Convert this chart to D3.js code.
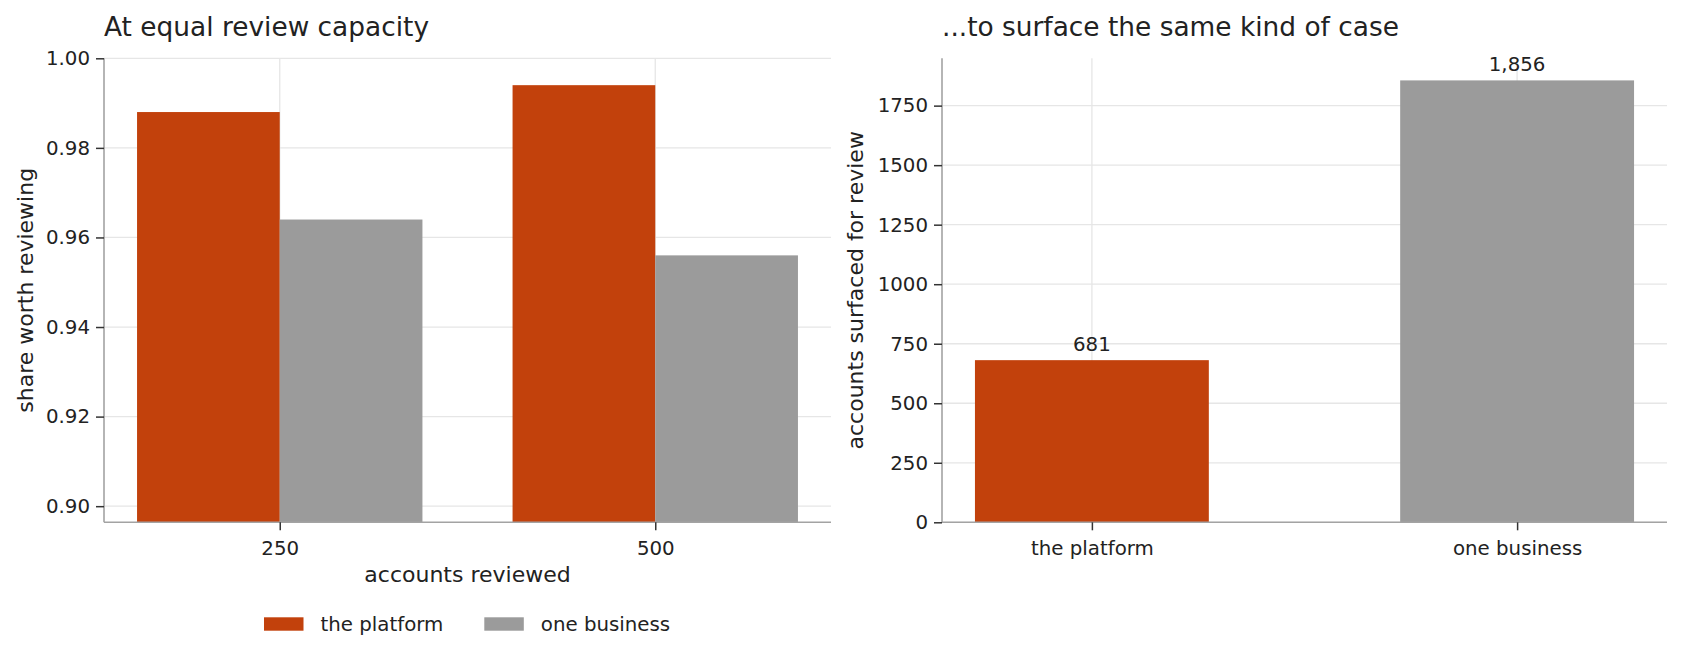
<!DOCTYPE html>
<html>
<head>
<meta charset="utf-8">
<script src="https://cdn.jsdelivr.net/npm/d3@7"></script>
<style>
  html, body { margin: 0; padding: 0; background: #fff; }
  svg { display: block; font-family: "DejaVu Sans", sans-serif; }
</style>
</head>
<body>
<svg id="chart" width="1682" height="659"></svg>
<script>
// ---- data ----
const capacityLabels = ["250", "500"];
const seriesNames = ["the platform", "one business"];
const platformShare = [0.988, 0.994];
const businessShare = [0.964, 0.956];
const leftTicks = [0.90, 0.92, 0.94, 0.96, 0.98, 1.00];

const surfacedCategories = ["the platform", "one business"];
const surfacedValues = [681, 1856];
const rightTicks = [0, 250, 500, 750, 1000, 1250, 1500, 1750];

const leftTitle = "At equal review capacity";
const rightTitle = "...to surface the same kind of case";
const leftYLabel = "share worth reviewing";
const leftXLabel = "accounts reviewed";
const rightYLabel = "accounts surfaced for review";

// ---- style ----
const colors = ["#c2410c", "#9b9b9b"];
const textColor = "#222222";
const gridColor = "#e6e6e6";
const spineColor = "#a3a3a3";
const tickFont = 19.8;

const svg = d3.select("#chart");

function spines(g, x0, x1, y0, y1) {
  g.append("line").attr("x1", x0).attr("x2", x0).attr("y1", y0).attr("y2", y1)
    .attr("stroke", spineColor).attr("stroke-width", 1.6);
  g.append("line").attr("x1", x0).attr("x2", x1).attr("y1", y1).attr("y2", y1)
    .attr("stroke", spineColor).attr("stroke-width", 1.6);
}

function styleAxis(sel) {
  sel.select(".domain").remove();
  sel.selectAll(".tick line").attr("stroke", "#333").attr("stroke-width", 1.5);
  sel.selectAll(".tick text").attr("fill", textColor).attr("font-size", tickFont)
    .attr("font-family", "DejaVu Sans");
}

// ================= LEFT PANEL =================
const L = { left: 104, right: 831, top: 58.3, bottom: 522.3 };
const xL = d3.scaleLinear().domain([-0.468, 1.468]).range([L.left, L.right]);
const yL = d3.scaleLinear().domain([0.8964, 1.0]).range([L.bottom, L.top]);
const barW = 0.38;

const gL = svg.append("g");
// grid
gL.selectAll(".hgrid").data(leftTicks).join("line")
  .attr("x1", L.left).attr("x2", L.right)
  .attr("y1", d => yL(d)).attr("y2", d => yL(d))
  .attr("stroke", gridColor).attr("stroke-width", 1.3);
gL.selectAll(".vgrid").data(capacityLabels).join("line")
  .attr("x1", (d, i) => xL(i)).attr("x2", (d, i) => xL(i))
  .attr("y1", L.top).attr("y2", L.bottom)
  .attr("stroke", gridColor).attr("stroke-width", 1.3);

// bars
const leftSeries = [platformShare, businessShare];
leftSeries.forEach((vals, s) => {
  gL.selectAll(".bar" + s).data(vals).join("rect")
    .attr("x", (d, i) => xL(i + (s === 0 ? -barW : 0)))
    .attr("width", xL(barW) - xL(0))
    .attr("y", d => yL(d))
    .attr("height", d => L.bottom - yL(d))
    .attr("fill", colors[s]);
});

spines(gL, L.left, L.right, L.top, L.bottom);

// axes
gL.append("g").attr("transform", `translate(${L.left},0)`)
  .call(d3.axisLeft(yL).tickValues(leftTicks).tickFormat(d3.format(".2f")).tickSize(8).tickPadding(6))
  .call(styleAxis);
gL.append("g").attr("transform", `translate(0,${L.bottom})`)
  .call(d3.axisBottom(xL).tickValues([0, 1]).tickFormat(i => capacityLabels[i]).tickSize(8).tickPadding(6))
  .call(styleAxis)
  .selectAll(".tick text").attr("dy", null).attr("y", 32.7);

// labels
gL.append("text").attr("x", L.left).attr("y", 36).text(leftTitle)
  .attr("font-size", 26.4).attr("fill", textColor);
gL.append("text").attr("x", (L.left + L.right) / 2).attr("y", 582)
  .attr("text-anchor", "middle").text(leftXLabel)
  .attr("font-size", 22).attr("fill", textColor);
gL.append("text")
  .attr("transform", `translate(33,${(L.top + L.bottom) / 2}) rotate(-90)`)
  .attr("text-anchor", "middle").text(leftYLabel)
  .attr("font-size", 22).attr("fill", textColor);

// legend
const legendX = [264, 484.3];
const legend = svg.append("g");
legend.selectAll("rect").data(seriesNames).join("rect")
  .attr("x", (d, i) => legendX[i]).attr("y", 617.3)
  .attr("width", 39.5).attr("height", 13.4)
  .attr("fill", (d, i) => colors[i]);
legend.selectAll("text").data(seriesNames).join("text")
  .attr("x", (d, i) => legendX[i] + 56.5).attr("y", 631)
  .text(d => d).attr("font-size", 19.8).attr("fill", textColor);

// ================= RIGHT PANEL =================
const R = { left: 942, right: 1667, top: 58.3, bottom: 522.3 };
const xR = d3.scaleLinear().domain([-0.3525, 1.3525]).range([R.left, R.right]);
const yR = d3.scaleLinear().domain([0, d3.max(surfacedValues) * 1.05]).range([R.bottom, R.top]);
const barWR = 0.55;

const gR = svg.append("g");
gR.selectAll(".hgrid").data(rightTicks).join("line")
  .attr("x1", R.left).attr("x2", R.right)
  .attr("y1", d => yR(d)).attr("y2", d => yR(d))
  .attr("stroke", gridColor).attr("stroke-width", 1.3);
gR.selectAll(".vgrid").data(surfacedCategories).join("line")
  .attr("x1", (d, i) => xR(i)).attr("x2", (d, i) => xR(i))
  .attr("y1", R.top).attr("y2", R.bottom)
  .attr("stroke", gridColor).attr("stroke-width", 1.3);

gR.selectAll(".bar").data(surfacedValues).join("rect")
  .attr("x", (d, i) => xR(i - barWR / 2))
  .attr("width", xR(barWR) - xR(0))
  .attr("y", d => yR(d))
  .attr("height", d => R.bottom - yR(d))
  .attr("fill", (d, i) => colors[i]);

gR.selectAll(".ann").data(surfacedValues).join("text")
  .attr("x", (d, i) => xR(i)).attr("y", d => yR(d) - 9)
  .attr("text-anchor", "middle").text(d => d3.format(",")(d))
  .attr("font-size", 19.8).attr("fill", textColor);

spines(gR, R.left, R.right, R.top, R.bottom);

gR.append("g").attr("transform", `translate(${R.left},0)`)
  .call(d3.axisLeft(yR).tickValues(rightTicks).tickFormat(d3.format("d")).tickSize(8).tickPadding(6))
  .call(styleAxis);
gR.append("g").attr("transform", `translate(0,${R.bottom})`)
  .call(d3.axisBottom(xR).tickValues([0, 1]).tickFormat(i => surfacedCategories[i]).tickSize(8).tickPadding(6))
  .call(styleAxis)
  .selectAll(".tick text").attr("dy", null).attr("y", 32.7);

gR.append("text").attr("x", R.left).attr("y", 36).text(rightTitle)
  .attr("font-size", 26.4).attr("fill", textColor);
gR.append("text")
  .attr("transform", `translate(863,${(R.top + R.bottom) / 2}) rotate(-90)`)
  .attr("text-anchor", "middle").text(rightYLabel)
  .attr("font-size", 22).attr("fill", textColor);
</script>
</body>
</html>
